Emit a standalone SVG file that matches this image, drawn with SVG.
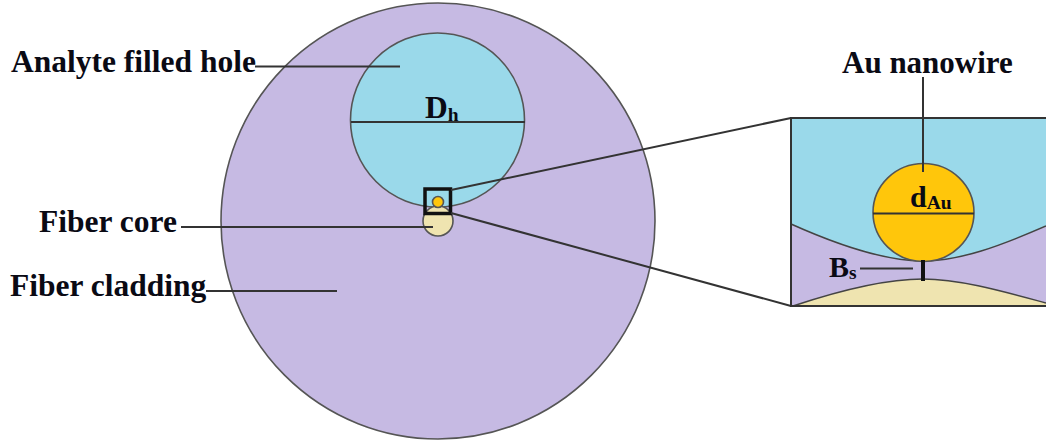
<svg xmlns="http://www.w3.org/2000/svg" width="1046" height="442" viewBox="0 0 1046 442">
<style>
.o{stroke:#555;stroke-width:1.6}
.l{stroke:#333;stroke-width:2;fill:none}
.c{stroke:#444;stroke-width:1.500;fill:none}
text{font-family:"Liberation Serif","Times New Roman",serif;font-weight:bold;font-size:31.500px;fill:#0a0a14}
.a{font-size:31px}
.m{font-size:30px}
.s{font-size:19.500px}
</style>
<rect width="1046" height="442" fill="#fff"/>
<g id="cladding"><ellipse cx="438" cy="221" rx="217" ry="218" fill="#c6bae3" class="o"/></g>
<g id="hole"><circle cx="437.500" cy="120" r="87" fill="#9ad9ea" class="o"/></g>
<g id="core"><circle cx="438" cy="221" r="15" fill="#efe4b0" class="o"/></g>
<g id="mini-wire"><circle cx="438" cy="202" r="5.500" fill="#ffc60b" class="o"/></g>
<g id="zoom-box"><rect x="425" y="189" width="25.500" height="24.500" fill="none" stroke="#111" stroke-width="3.500"/></g>
<g id="inset">
<rect x="791" y="118" width="255" height="188" fill="#c6bae3"/>
<path d="M791 118H1046V226C1000 246 960 261 923 261C885 261 840 246 791 224Z" fill="#9ad9ea"/>
<path d="M793 306C835 292 885 279 923 279C960 279 1005 292 1046 303V306Z" fill="#efe4b0"/>
<path d="M791 224C840 246 885 261 923 261C960 261 1000 246 1046 226" class="c"/>
<path d="M793 306C835 292 885 279 923 279C960 279 1005 292 1046 303" class="c"/>
<path d="M1046 118H791V306H1046" class="l"/>
</g>
<g id="gold-wire"><ellipse cx="923.500" cy="212.500" rx="50.500" ry="49" fill="#ffc60b" class="o"/></g>
<g id="connectors">
<path class="l" d="M255 66.500H400M181 227H433M206 291H337M351 122H525M451 190L791 118M451 213L791 306M923 77V172M873 213.500H974M860 268.500H913"/>
<path d="M923 260V281" stroke="#111" stroke-width="4" fill="none"/>
</g>
<g id="labels">
<text x="11" y="72">Analyte filled hole</text>
<text x="39" y="232">Fiber core</text>
<text x="10" y="296">Fiber cladding</text>
<text class="a" x="842" y="73">Au nanowire</text>
<text x="425" y="118">D<tspan class="s" dy="3">h</tspan></text>
<text class="m" x="910" y="207">d<tspan class="s" dy="2">Au</tspan></text>
<text class="m" x="829" y="277">B<tspan class="s" dy="2">s</tspan></text>
</g>
</svg>
